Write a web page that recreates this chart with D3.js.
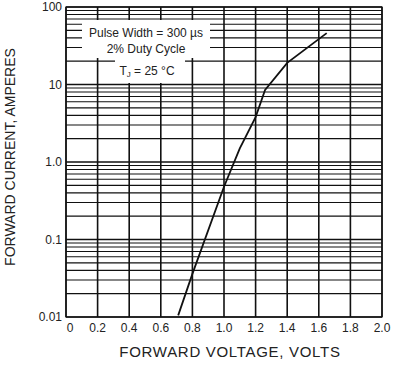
<!DOCTYPE html>
<html>
<head>
<meta charset="utf-8">
<script src="https://cdn.jsdelivr.net/npm/d3@7"></script>
<style>
  body { margin: 0; background: #fff; }
  svg { font-family: Arial, "Liberation Sans", sans-serif; }
</style>
</head>
<body>
<svg width="400" height="373"></svg>
<script>
// forward voltage (V) vs forward current (A)
const voltage = [0.71, 0.80, 1.00, 1.10, 1.20, 1.26, 1.40, 1.65];
const current = [0.0105, 0.036, 0.48, 1.5, 3.8, 8.5, 19, 46];

const xTicks = [0, 0.2, 0.4, 0.6, 0.8, 1.0, 1.2, 1.4, 1.6, 1.8, 2.0];
const xTickLabels = ["0", "0.2", "0.4", "0.6", "0.8", "1.0", "1.2", "1.4", "1.6", "1.8", "2.0"];
const yTicks = [0.01, 0.1, 1, 10, 100];
const yTickLabels = ["0.01", "0.1", "1.0", "10", "100"];
const noteLines = ["Pulse Width = 300 \u00b5s", "2% Duty Cycle"];

const svg = d3.select("svg"),
    margin = {top: 7, right: 18, bottom: 56, left: 66},
    width = +svg.attr("width") - margin.left - margin.right,
    height = +svg.attr("height") - margin.top - margin.bottom;

const x = d3.scaleLinear().domain([0, 2]).range([0, width]);
const y = d3.scaleLog().domain([0.01, 100]).range([height, 0]);

const g = svg.append("g")
    .attr("transform", `translate(${margin.left},${margin.top})`);

// log grid: 1..9 in every decade
const minor = [];
for (let d = 0.01; d < 100; d *= 10) {
    for (let k = 1; k < 10; k++) minor.push(+(d * k).toPrecision(3));
}
minor.push(100);

g.append("g")
    .selectAll("line")
    .data(minor)
    .enter().append("line")
    .attr("x1", 0)
    .attr("x2", width)
    .attr("y1", d => y(d))
    .attr("y2", d => y(d))
    .attr("stroke", "#111")
    .attr("stroke-width", d => yTicks.includes(d) ? 1.6 : 1.1);

g.append("g")
    .selectAll("line")
    .data(xTicks)
    .enter().append("line")
    .attr("x1", d => x(d))
    .attr("x2", d => x(d))
    .attr("y1", 0)
    .attr("y2", height)
    .attr("stroke", "#111")
    .attr("stroke-width", 1.6);

g.append("rect")
    .attr("width", width)
    .attr("height", height)
    .attr("fill", "none")
    .attr("stroke", "#111")
    .attr("stroke-width", 1.2);

// white panels behind the note
g.append("rect")
    .attr("x", 16).attr("y", 13)
    .attr("width", 128).attr("height", 38)
    .attr("fill", "#fff");
g.append("rect")
    .attr("x", 49).attr("y", 50)
    .attr("width", 70).attr("height", 26)
    .attr("fill", "#fff");

g.selectAll(".note")
    .data(noteLines)
    .enter().append("text")
    .attr("class", "note")
    .attr("x", 80)
    .attr("y", (d, i) => 29.5 + i * 16)
    .attr("text-anchor", "middle")
    .attr("font-size", 12)
    .attr("fill", "#222")
    .text(d => d);

const tj = g.append("text")
    .attr("x", 81)
    .attr("y", 68)
    .attr("text-anchor", "middle")
    .attr("font-size", 12)
    .attr("fill", "#222");
tj.append("tspan").text("T");
tj.append("tspan").attr("font-size", 8).attr("dy", 2).text("J");
tj.append("tspan").attr("dy", -2).text(" = 25 \u00b0C");

// curve
const line = d3.line()
    .x(d => x(d[0]))
    .y(d => y(d[1]));

g.append("path")
    .datum(voltage.map((v, i) => [v, current[i]]))
    .attr("d", line)
    .attr("fill", "none")
    .attr("stroke", "#111")
    .attr("stroke-width", 1.8);

// tick labels
g.selectAll(".xlab")
    .data(xTicks)
    .enter().append("text")
    .attr("x", (d, i) => x(d) + (i === 0 ? 4 : 0))
    .attr("y", height + 15)
    .attr("text-anchor", "middle")
    .attr("font-size", 12)
    .attr("fill", "#222")
    .text((d, i) => xTickLabels[i]);

g.selectAll(".ylab")
    .data(yTicks)
    .enter().append("text")
    .attr("x", -4)
    .attr("y", d => y(d) + 4)
    .attr("text-anchor", "end")
    .attr("font-size", 12)
    .attr("fill", "#222")
    .text((d, i) => yTickLabels[i]);

// axis titles
svg.append("text")
    .attr("x", 230)
    .attr("y", 357)
    .attr("text-anchor", "middle")
    .attr("font-size", 15)
    .attr("letter-spacing", 0.7)
    .attr("fill", "#222")
    .text("FORWARD VOLTAGE, VOLTS");

svg.append("text")
    .attr("transform", "translate(15,157) rotate(-90)")
    .attr("text-anchor", "middle")
    .attr("font-size", 14)
    .attr("fill", "#222")
    .text("FORWARD CURRENT, AMPERES");
</script>
</body>
</html>
